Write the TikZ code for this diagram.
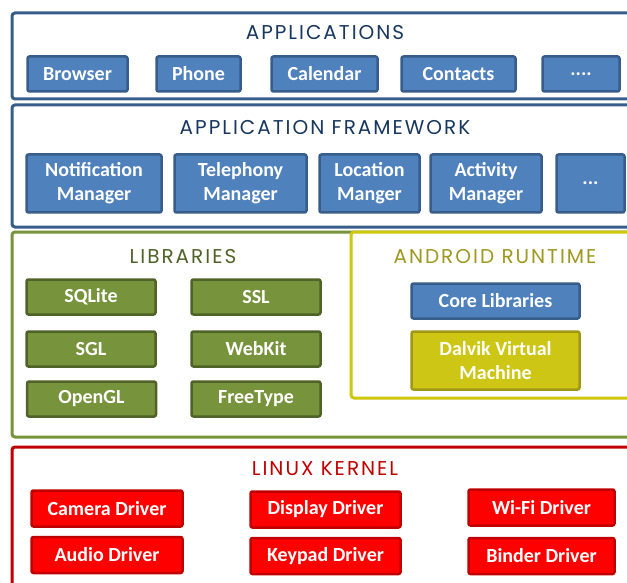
\documentclass[tikz,border=0pt]{standalone}
\usepackage{fontspec}
\setmainfont{Carlito}
\newfontfamily\titlefont{Poppins}[LetterSpace=10]

\definecolor{appfill}{HTML}{4F81BD}
\definecolor{appline}{HTML}{385D8A}
\definecolor{apptitle}{HTML}{17375E}
\definecolor{libfill}{HTML}{77933C}
\definecolor{libline}{HTML}{4F6228}
\definecolor{rtframe}{HTML}{CFC70A}
\definecolor{rttitle}{HTML}{9E9820}
\definecolor{rtfill}{HTML}{CEC614}
\definecolor{rtline}{HTML}{A09814}
\definecolor{krnfill}{HTML}{FF0000}
\definecolor{krnline}{HTML}{C00000}

\tikzset{
  box/.style={rounded corners=2pt, line width=2.5pt, text=white, align=center,
    inner sep=0pt, font=\bfseries\fontsize{20}{24}\selectfont},
  appbox/.style={box, draw=appline, fill=appfill},
  libbox/.style={box, draw=libline, fill=libfill, minimum width=129, minimum height=35},
  rtbox/.style={box, draw=rtline, fill=rtfill},
  krnbox/.style={box, draw=krnline, fill=krnfill, minimum height=36},
  layer/.style={line width=3pt, rounded corners=3pt},
  layertitle/.style={font=\titlefont\fontsize{20}{24}\selectfont}
}

\begin{document}
\begin{tikzpicture}[x=1pt,y=-1pt]
\useasboundingbox (0,0) rectangle (627,583);
\clip (0,0) rectangle (627,583);

% applications
\draw[layer, draw=appline] (12,13) rectangle (640,99);
\node[layertitle, text=apptitle] (apptitle) at (325,33) {APPLICATIONS};
\node[appbox, minimum width=100, minimum height=35] (browser) at (77.5,74) {Browser};
\node[appbox, minimum width=84, minimum height=35] (phone) at (198.5,74) {Phone};
\node[appbox, minimum width=106, minimum height=35] (calendar) at (324.5,74) {Calendar};
\node[appbox, minimum width=114, minimum height=35] (contacts) at (458.5,74) {Contacts};
\node[appbox, minimum width=77, minimum height=35] (moreapps) at (581,74) {....};

% application framework
\draw[layer, draw=appline] (12,105) rectangle (640,227);
\node[layertitle, text=apptitle] (fwtitle) at (325,128) {APPLICATION FRAMEWORK};
\node[appbox, minimum width=135, minimum height=58] (notif) at (94,183.5) {Notification\\Manager};
\node[appbox, minimum width=132, minimum height=58] (tele) at (240.5,183.5) {Telephony\\Manager};
\node[appbox, minimum width=100, minimum height=58] (loc) at (369.5,183.5) {Location\\Manger};
\node[appbox, minimum width=111, minimum height=58] (act) at (486,183.5) {Activity\\Manager};
\node[appbox, minimum width=68, minimum height=58] (morefw) at (590.5,183.5) {...};

% libraries
\draw[layer, draw=libfill] (12,232) rectangle (640,437);
\node[layertitle, text=libline] (libtitle) at (183,257) {LIBRARIES};
\node[libbox] (sqlite) at (91,297) {SQLite};
\node[libbox] (ssl) at (256,297) {SSL};
\node[libbox] (sgl) at (91,349) {SGL};
\node[libbox] (webkit) at (256,349) {WebKit};
\node[libbox] (opengl) at (91.5,399) {OpenGL};
\node[libbox] (freetype) at (256,399) {FreeType};

% android runtime
\draw[layer, draw=rtframe, fill=white] (351,232) rectangle (640,398);
\node[layertitle, text=rttitle] (rttitle) at (495,257) {ANDROID RUNTIME};
\node[appbox, minimum width=168, minimum height=35] (corelib) at (495.5,301) {Core Libraries};
\node[rtbox, minimum width=168, minimum height=58] (dalvik) at (495.5,360.5) {Dalvik Virtual\\Machine};

% linux kernel
\draw[layer, draw=krnline] (12,447) rectangle (640,600);
\node[layertitle, text=krnline] (krntitle) at (325,469) {LINUX KERNEL};
\node[krnbox, minimum width=151] (camera) at (107,508.5) {Camera Driver};
\node[krnbox, minimum width=151] (audio) at (107,555) {Audio Driver};
\node[krnbox, minimum width=150] (display) at (325.5,509.5) {Display Driver};
\node[krnbox, minimum width=150] (keypad) at (325.5,556) {Keypad Driver};
\node[krnbox, minimum width=146] (wifi) at (541.5,507.5) {Wi-Fi Driver};
\node[krnbox, minimum width=146] (binder) at (541.5,556) {Binder Driver};
\end{tikzpicture}
\end{document}
